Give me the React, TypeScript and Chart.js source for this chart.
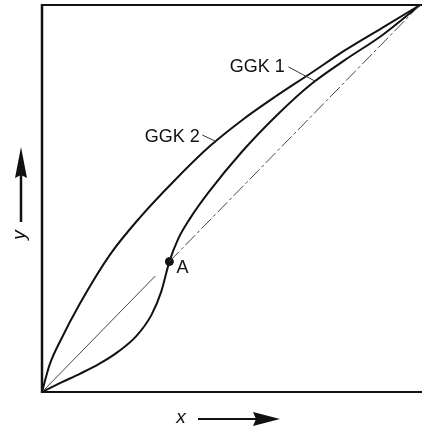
import { useEffect, useRef } from "react";
import { Chart, registerables } from "chart.js";

Chart.register(...registerables);

// Curve GGK 1 (S-shaped, crosses the diagonal at A)
const ggk1X = [0, 0.05, 0.1, 0.15, 0.2, 0.25, 0.29, 0.315, 0.337, 0.36, 0.39, 0.44, 0.53, 0.62, 0.71, 0.8, 0.9, 1];
const ggk1Y = [0, 0.024, 0.047, 0.072, 0.103, 0.145, 0.2, 0.258, 0.337, 0.395, 0.446, 0.515, 0.622, 0.714, 0.794, 0.857, 0.922, 1];

// Curve GGK 2 (concave, above the diagonal)
const ggk2X = [0, 0.02, 0.05, 0.1, 0.18, 0.26, 0.35, 0.445, 0.53, 0.62, 0.71, 0.8, 0.9, 1];
const ggk2Y = [0, 0.07, 0.135, 0.228, 0.355, 0.452, 0.546, 0.636, 0.703, 0.765, 0.823, 0.882, 0.941, 1];

// Diagonal y = x, interrupted just below A
const diagX = [0, 0.3, 0.32, 0.337, 1];
const diagY = [0, 0.3, null, 0.337, 1];

// Marked point A
const pointAX = [0.337];
const pointAY = [0.337];

// Curve labels: text, anchor x, anchor y (data units), leader line ends
const labelTexts = ["GGK 1", "GGK 2", "A"];
const labelX = [0.497, 0.272, 0.356];
const labelY = [0.827, 0.646, 0.307];
const leaderFromX = [0.652, 0.424];
const leaderFromY = [0.84, 0.664];
const leaderToX = [0.723, 0.457];
const leaderToY = [0.803, 0.649];

const axisTitles = ["x", "y"];

const FONT = '"Liberation Sans", Arial, Helvetica, sans-serif';
const INK = "#111";

const toPoints = (xs: number[], ys: (number | null)[]) =>
  xs.map((x, i) => ({ x, y: ys[i] }));

const decorPlugin = {
  id: "decor",
  afterDatasetsDraw(chart: any) {
    const { ctx, chartArea, scales } = chart;
    const { left, right, top, bottom } = chartArea;
    const sx = scales.x;
    const sy = scales.y;
    ctx.save();
    ctx.strokeStyle = INK;
    ctx.fillStyle = INK;
    ctx.lineCap = "butt";

    // frame: left, bottom, top
    ctx.lineWidth = 2.5;
    ctx.beginPath();
    ctx.moveTo(left, top - 1);
    ctx.lineTo(left, bottom + 1);
    ctx.stroke();
    ctx.lineWidth = 2;
    ctx.beginPath();
    ctx.moveTo(left, bottom);
    ctx.lineTo(right + 2, bottom);
    ctx.moveTo(left, top);
    ctx.lineTo(right + 2, top);
    ctx.stroke();

    // leader lines
    ctx.lineWidth = 1;
    ctx.strokeStyle = "#333";
    for (let i = 0; i < leaderFromX.length; i++) {
      ctx.beginPath();
      ctx.moveTo(sx.getPixelForValue(leaderFromX[i]), sy.getPixelForValue(leaderFromY[i]));
      ctx.lineTo(sx.getPixelForValue(leaderToX[i]), sy.getPixelForValue(leaderToY[i]));
      ctx.stroke();
    }

    // curve labels
    ctx.font = `18px ${FONT}`;
    ctx.textAlign = "left";
    ctx.textBaseline = "alphabetic";
    for (let i = 0; i < labelTexts.length; i++) {
      ctx.fillText(labelTexts[i], sx.getPixelForValue(labelX[i]), sy.getPixelForValue(labelY[i]));
    }

    // x axis title with arrow
    const xLabelY = bottom + 27;
    const xLabelX = left + 139;
    ctx.font = `italic 19px ${FONT}`;
    ctx.textAlign = "center";
    ctx.textBaseline = "middle";
    ctx.fillText(axisTitles[0], xLabelX, xLabelY - 1);
    ctx.lineWidth = 2;
    ctx.strokeStyle = INK;
    ctx.beginPath();
    ctx.moveTo(xLabelX + 17, xLabelY);
    ctx.lineTo(xLabelX + 76, xLabelY);
    ctx.stroke();
    ctx.beginPath();
    ctx.moveTo(xLabelX + 99, xLabelY);
    ctx.lineTo(xLabelX + 72, xLabelY - 7);
    ctx.lineTo(xLabelX + 75, xLabelY);
    ctx.lineTo(xLabelX + 72, xLabelY + 7);
    ctx.closePath();
    ctx.fill();

    // y axis title with arrow
    const yLabelX = left - 22;
    const yLabelY = top + 230;
    ctx.save();
    ctx.translate(yLabelX, yLabelY);
    ctx.rotate(-Math.PI / 2);
    ctx.fillText(axisTitles[1], 0, 0);
    ctx.restore();
    ctx.lineWidth = 2.5;
    ctx.beginPath();
    ctx.moveTo(yLabelX + 1, yLabelY - 13);
    ctx.lineTo(yLabelX + 1, yLabelY - 60);
    ctx.stroke();
    ctx.beginPath();
    ctx.moveTo(yLabelX + 1, yLabelY - 88);
    ctx.lineTo(yLabelX - 5, yLabelY - 57);
    ctx.lineTo(yLabelX + 1, yLabelY - 60);
    ctx.lineTo(yLabelX + 7, yLabelY - 57);
    ctx.closePath();
    ctx.fill();

    ctx.restore();
  },
};

export default function App() {
  const canvasRef = useRef<HTMLCanvasElement | null>(null);

  useEffect(() => {
    document.body.style.margin = "0";
    const canvas = canvasRef.current;
    if (!canvas) return;
    const chart = new Chart(canvas, {
      type: "scatter",
      data: {
        datasets: [
          {
            label: "Diagonale",
            data: toPoints(diagX, diagY),
            showLine: true,
            spanGaps: false,
            borderColor: "#444",
            borderWidth: 1,
            pointRadius: 0,
            clip: false,
            segment: {
              // solid up to A, dash-dot beyond it
              borderDash: (c: any) => (c.p0.parsed.x >= pointAX[0] ? [14, 3, 3, 3] : []),
            },
          },
          {
            label: "GGK 1",
            data: toPoints(ggk1X, ggk1Y),
            showLine: true,
            cubicInterpolationMode: "monotone",
            borderColor: INK,
            borderWidth: 2,
            pointRadius: 0,
            clip: false,
          },
          {
            label: "GGK 2",
            data: toPoints(ggk2X, ggk2Y),
            showLine: true,
            cubicInterpolationMode: "monotone",
            borderColor: INK,
            borderWidth: 2,
            pointRadius: 0,
            clip: false,
          },
          {
            label: "A",
            data: toPoints(pointAX, pointAY),
            showLine: false,
            pointRadius: 4,
            pointBackgroundColor: INK,
            pointBorderColor: INK,
            clip: false,
          },
        ],
      } as any,
      options: {
        responsive: false,
        animation: false,
        devicePixelRatio: 1,
        layout: { padding: { left: 42, top: 5, right: 1, bottom: 40 } },
        plugins: {
          legend: { display: false },
          tooltip: { enabled: false },
        },
        scales: {
          x: { type: "linear", min: 0, max: 1, display: false },
          y: { type: "linear", min: 0, max: 1, display: false },
        },
      },
      plugins: [decorPlugin],
    });
    return () => chart.destroy();
  }, []);

  return (
    <div style={{ position: "absolute", left: 0, top: 0, width: 425, height: 432, background: "#fff" }}>
      <canvas ref={canvasRef} width={425} height={432} />
    </div>
  );
}
